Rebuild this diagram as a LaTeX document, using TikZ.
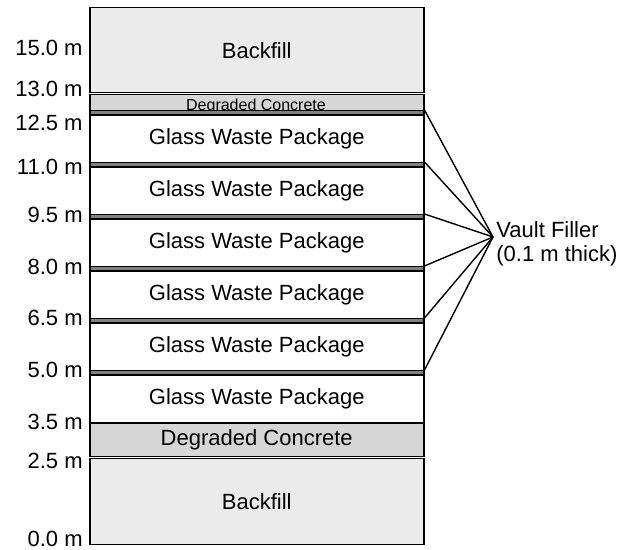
\documentclass[tikz,border=0pt]{standalone}
\usepackage{fontspec}
\setmainfont{Liberation Sans}
\usetikzlibrary{positioning}
\tikzset{
	layer/.style={draw=black, line width=0.75pt, minimum width=167pt, inner sep=0pt, anchor=north west, font=\fontsize{11}{12}\selectfont},
	backfill/.style={layer, fill=black!8},
	concrete/.style={layer, fill=black!16},
	glasspkg/.style={layer, fill=white},
	filler/.style={layer, fill=black!50, minimum height=2.25pt},
	depth/.style={anchor=east, inner sep=0pt, font=\fontsize{11}{12}\selectfont}
}

\begin{document}
\begin{tikzpicture}[x=0.5pt, y=-0.5pt]
	\useasboundingbox (0,0) rectangle (627,550);
	% outer layers
	\node[backfill, minimum height=42.5pt] (bftop) at (89,7) {Backfill};
	\node[concrete, minimum height=8pt] (dctop) at (89,94) {};
	\node[anchor=base, inner sep=0pt, font=\fontsize{8}{9}\selectfont] (dctoptxt) at (256,111) {Degraded Concrete};
	\node[concrete, minimum height=16.5pt, font=\fontsize{11}{12}\selectfont] (dcbot) at (89,423) {Degraded Concrete};
	\node[backfill, minimum height=43pt] (bfbot) at (89,458) {Backfill};
	% glass packages with the filler on top of each
	\foreach \i in {0,...,5}{
		\node[glasspkg, minimum height=23.75pt] (gwp\i) at (89,114.5+52*\i) {Glass Waste Package};
		\node[filler] (f\i) at (89,110+52*\i) {};
	}
	% depth labels
	\node[depth] (d150) at (83,47.5) {15.0 m};
	\node[depth] (d130) at (83,89) {13.0 m};
	\node[depth] (d125) at (83,123) {12.5 m};
	\node[depth] (d110) at (83,167) {11.0 m};
	\node[depth] (d95) at (83,215) {9.5 m};
	\node[depth] (d80) at (83,266.5) {8.0 m};
	\node[depth] (d65) at (83,318) {6.5 m};
	\node[depth] (d50) at (83,370) {5.0 m};
	\node[depth] (d35) at (83,422) {3.5 m};
	\node[depth] (d25) at (83,461) {2.5 m};
	\node[depth] (d00) at (83,539) {0.0 m};
	% vault filler callout
	\coordinate (vfpt) at (493,237);
	\node[anchor=west, align=left, inner sep=0pt, font=\fontsize{11}{12}\selectfont] (vf) at (496,244) {Vault Filler\\(0.1 m thick)};
	\foreach \i in {0,...,5}
	\draw[line width=0.7pt] (f\i.north east) -- (vfpt);
\end{tikzpicture}
\end{document}
